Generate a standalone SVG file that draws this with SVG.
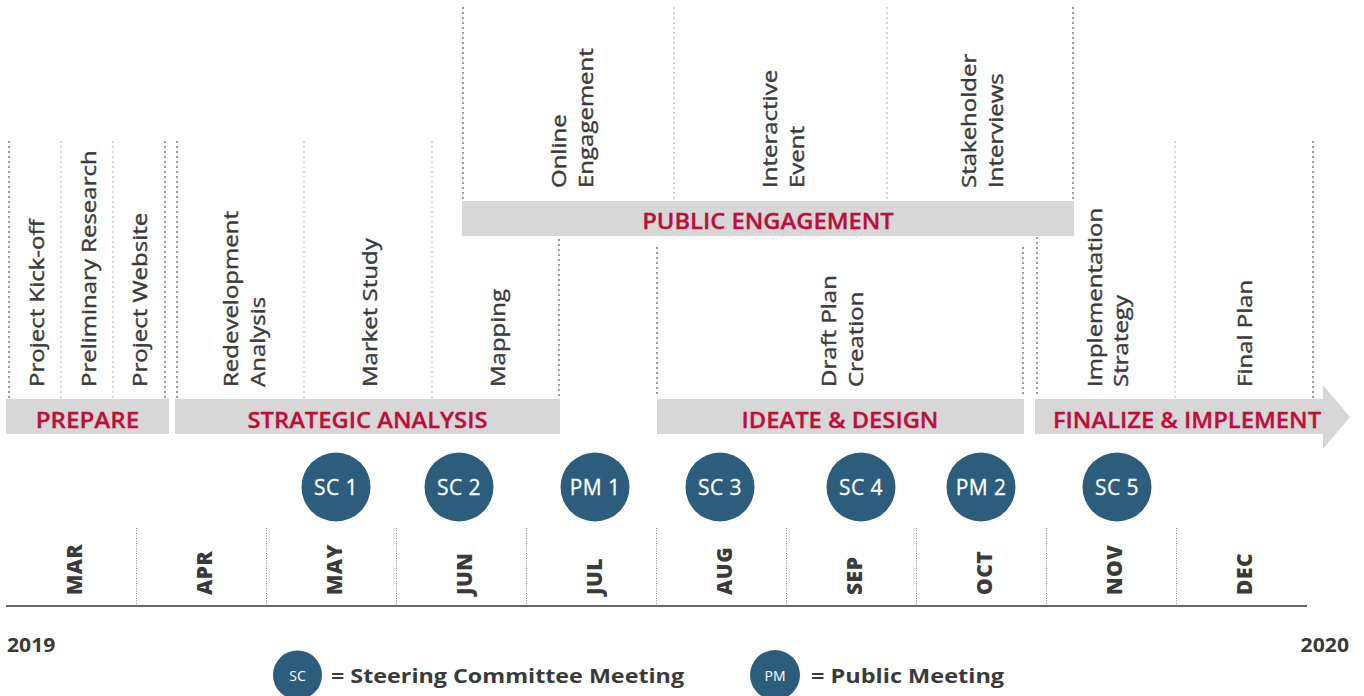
<svg xmlns="http://www.w3.org/2000/svg" width="1364" height="696" viewBox="0 0 1364 696">
<style>
.bar{fill:#d7d7d7}
.phase{font-family:"Open Sans",sans-serif;font-size:22px;font-weight:600;fill:#bf0d3a;text-anchor:middle;stroke:#bf0d3a;stroke-width:0.3}
.task{font-family:"Open Sans",sans-serif;font-size:20px;font-weight:500;fill:#3a3a3a;stroke:#3a3a3a;stroke-width:0.4}
.dk{stroke:#7a7a7a;stroke-width:2;stroke-linecap:round;stroke-dasharray:0 5;fill:none}
.lt{stroke:#c9c9c9;stroke-width:2;stroke-linecap:round;stroke-dasharray:0 5;fill:none}
.sep{stroke:#8a8a8a;stroke-width:1;stroke-dasharray:1 1.5;fill:none}
.circ{fill:#2d5d7c}
.ctext{font-family:"Open Sans",sans-serif;font-size:21px;font-weight:500;fill:#ffffff;text-anchor:middle;letter-spacing:0.4px;stroke:#ffffff;stroke-width:0.3}
.month{font-family:"Open Sans",sans-serif;font-size:21px;font-weight:800;fill:#3a3a3a;letter-spacing:0.5px}
.year{font-family:"Open Sans",sans-serif;font-size:20px;font-weight:700;fill:#3a3a3a}
.leg{font-family:"Open Sans",sans-serif;font-size:20px;font-weight:700;fill:#3a3a3a}
.legc{font-family:"Open Sans",sans-serif;font-size:14px;font-weight:500;fill:#ffffff;text-anchor:middle}
</style>
<g id="guides">
<line class="dk" x1="9" y1="142" x2="9" y2="398"/>
<line class="lt" x1="61" y1="142" x2="61" y2="398"/>
<line class="lt" x1="113" y1="142" x2="113" y2="398"/>
<line class="dk" x1="165" y1="142" x2="165" y2="398"/>
<line class="dk" x1="177" y1="142" x2="177" y2="398"/>
<line class="lt" x1="304" y1="142" x2="304" y2="398"/>
<line class="lt" x1="432" y1="142" x2="432" y2="398"/>
<line class="dk" x1="559" y1="240" x2="559" y2="398"/>
<line class="dk" x1="463" y1="8" x2="463" y2="200"/>
<line class="lt" x1="674" y1="8" x2="674" y2="200"/>
<line class="lt" x1="887" y1="8" x2="887" y2="200"/>
<line class="dk" x1="1073" y1="8" x2="1073" y2="200"/>
<line class="dk" x1="657" y1="248" x2="657" y2="398"/>
<line class="dk" x1="1023" y1="248" x2="1023" y2="398"/>
<line class="dk" x1="1037" y1="238" x2="1037" y2="398"/>
<line class="lt" x1="1175" y1="142" x2="1175" y2="398"/>
<line class="dk" x1="1313" y1="142" x2="1313" y2="398"/>
</g>
<g id="phase-prepare">
<rect class="bar" x="6" y="399" width="163" height="35"/>
<text class="phase" transform="translate(87.5,428) scale(1.1,1)">PREPARE</text>
</g>
<g id="phase-strategic">
<rect class="bar" x="175" y="399" width="385" height="35"/>
<text class="phase" transform="translate(367.5,428) scale(1.08,1)">STRATEGIC ANALYSIS</text>
</g>
<g id="phase-public">
<rect class="bar" x="462" y="201" width="612" height="35"/>
<text class="phase" transform="translate(768,229) scale(1.08,1)">PUBLIC ENGAGEMENT</text>
</g>
<g id="phase-ideate">
<rect class="bar" x="657" y="399" width="367" height="35"/>
<text class="phase" transform="translate(840,428) scale(1.08,1)">IDEATE &amp; DESIGN</text>
</g>
<g id="phase-finalize">
<path class="bar" d="M1035 399 H1323 V385 L1350 417 L1323 449 V434 H1035 Z"/>
<text class="phase" transform="translate(1187,428) scale(1.08,1)">FINALIZE &amp; IMPLEMENT</text>
</g>
<g id="tasks">
<text class="task" transform="translate(44,387) rotate(-90) scale(1.2,1)">Project Kick-off</text>
<text class="task" transform="translate(96,387) rotate(-90) scale(1.2,1)">Preliminary Research</text>
<text class="task" transform="translate(147,387) rotate(-90) scale(1.2,1)">Project Website</text>
<text class="task" transform="translate(238,387) rotate(-90) scale(1.2,1)"><tspan x="0" y="0">Redevelopment</tspan><tspan x="0" y="27">Analysis</tspan></text>
<text class="task" transform="translate(377,387) rotate(-90) scale(1.2,1)">Market Study</text>
<text class="task" transform="translate(505,387) rotate(-90) scale(1.2,1)">Mapping</text>
<text class="task" transform="translate(566,188) rotate(-90) scale(1.2,1)"><tspan x="0" y="0">Online</tspan><tspan x="0" y="27">Engagement</tspan></text>
<text class="task" transform="translate(777,188) rotate(-90) scale(1.2,1)"><tspan x="0" y="0">Interactive</tspan><tspan x="0" y="27">Event</tspan></text>
<text class="task" transform="translate(976,188) rotate(-90) scale(1.2,1)"><tspan x="0" y="0">Stakeholder</tspan><tspan x="0" y="27">Interviews</tspan></text>
<text class="task" transform="translate(836,387) rotate(-90) scale(1.2,1)"><tspan x="0" y="0">Draft Plan</tspan><tspan x="0" y="27">Creation</tspan></text>
<text class="task" transform="translate(1102,387) rotate(-90) scale(1.2,1)"><tspan x="0" y="0">Implementation</tspan><tspan x="0" y="26">Strategy</tspan></text>
<text class="task" transform="translate(1252,387) rotate(-90) scale(1.2,1)">Final Plan</text>
</g>
<g id="meetings">
<g id="sc1"><circle class="circ" cx="336" cy="487" r="34.5"/><text class="ctext" x="336" y="495">SC 1</text></g>
<g id="sc2"><circle class="circ" cx="459" cy="487" r="34.5"/><text class="ctext" x="459" y="495">SC 2</text></g>
<g id="pm1"><circle class="circ" cx="595" cy="487" r="34.5"/><text class="ctext" x="595" y="495">PM 1</text></g>
<g id="sc3"><circle class="circ" cx="720" cy="487" r="34.5"/><text class="ctext" x="720" y="495">SC 3</text></g>
<g id="sc4"><circle class="circ" cx="861" cy="487" r="34.5"/><text class="ctext" x="861" y="495">SC 4</text></g>
<g id="pm2"><circle class="circ" cx="981" cy="487" r="34.5"/><text class="ctext" x="981" y="495">PM 2</text></g>
<g id="sc5"><circle class="circ" cx="1117" cy="487" r="34.5"/><text class="ctext" x="1117" y="495">SC 5</text></g>
</g>
<g id="axis">
<line x1="6" y1="606" x2="1307" y2="606" stroke="#666666" stroke-width="2"/>
<line class="sep" x1="136.5" y1="528" x2="136.5" y2="605"/>
<line class="sep" x1="266.5" y1="528" x2="266.5" y2="605"/>
<line class="sep" x1="396.5" y1="528" x2="396.5" y2="605"/>
<line class="sep" x1="526.5" y1="528" x2="526.5" y2="605"/>
<line class="sep" x1="656.5" y1="528" x2="656.5" y2="605"/>
<line class="sep" x1="786.5" y1="528" x2="786.5" y2="605"/>
<line class="sep" x1="916.5" y1="528" x2="916.5" y2="605"/>
<line class="sep" x1="1046.5" y1="528" x2="1046.5" y2="605"/>
<line class="sep" x1="1176.5" y1="528" x2="1176.5" y2="605"/>
</g>
<g id="months">
<text class="month" transform="translate(82,595) rotate(-90)">MAR</text>
<text class="month" transform="translate(212,595) rotate(-90)">APR</text>
<text class="month" transform="translate(342,595) rotate(-90)">MAY</text>
<text class="month" transform="translate(472,595) rotate(-90)">JUN</text>
<text class="month" transform="translate(602,595) rotate(-90)">JUL</text>
<text class="month" transform="translate(732,595) rotate(-90)">AUG</text>
<text class="month" transform="translate(862,595) rotate(-90)">SEP</text>
<text class="month" transform="translate(992,595) rotate(-90)">OCT</text>
<text class="month" transform="translate(1122,595) rotate(-90)">NOV</text>
<text class="month" transform="translate(1252,595) rotate(-90)">DEC</text>
</g>
<g id="years">
<text class="year" transform="translate(7,652) scale(1.06,1)">2019</text>
<text class="year" transform="translate(1349,652) scale(1.06,1)" text-anchor="end">2020</text>
</g>
<g id="legend">
<g id="legend-sc"><circle class="circ" cx="297.5" cy="675" r="24.5"/><text class="legc" x="297.5" y="681">SC</text><text class="leg" transform="translate(331,683) scale(1.165,1)">= Steering Committee Meeting</text></g>
<g id="legend-pm"><circle class="circ" cx="775" cy="675" r="25"/><text class="legc" x="775" y="681">PM</text><text class="leg" transform="translate(811,683) scale(1.175,1)">= Public Meeting</text></g>
</g>
</svg>
